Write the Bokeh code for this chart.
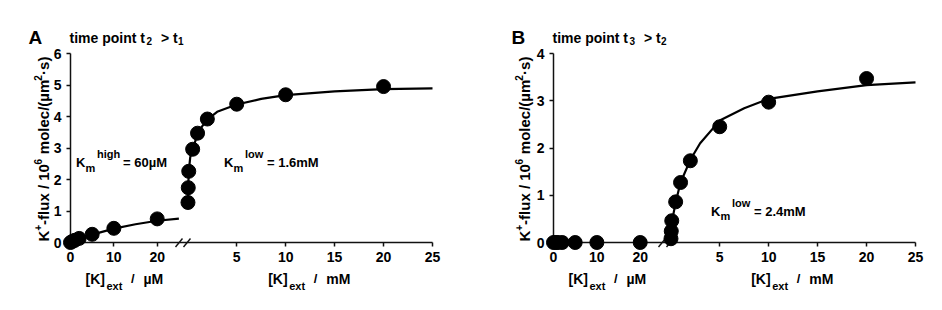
import math
from bokeh.plotting import figure
from bokeh.models import Range1d, FixedTicker
from bokeh.core.properties import value
from bokeh.layouts import row
from bokeh.embed import file_html
from bokeh.resources import INLINE

# ---------------- data ----------------
conc_um = [0, 0.5, 1, 2, 5, 10, 20]                 # µM part of the axis
conc_mm = [0.02, 0.05, 0.1, 0.5, 1, 2, 5, 10, 20]   # mM part of the axis

fluxA_um = [0.0, 0.04, 0.07, 0.13, 0.26, 0.45, 0.75]
fluxA_mm = [1.27, 1.74, 2.26, 2.96, 3.47, 3.92, 4.39, 4.69, 4.95]
fitA_um_x = [0, 2, 5, 10, 15, 20, 25]
fitA_um_y = [0.0, 0.12, 0.25, 0.44, 0.58, 0.69, 0.76]
fitA_mm_x = [0.02, 0.05, 0.1, 0.25, 0.5, 1, 1.5, 2, 3, 5, 7.5, 10, 15, 20, 25]
fitA_mm_y = [1.2, 1.75, 2.25, 2.7, 2.95, 3.45, 3.7, 3.9, 4.15, 4.38, 4.56, 4.68, 4.8, 4.87, 4.89]

fluxB_um = [0, 0, 0, 0, 0, 0, 0]
fluxB_mm = [0.08, 0.24, 0.46, 0.86, 1.27, 1.73, 2.45, 2.97, 3.47]
fitB_mm_x = [0, 0.05, 0.1, 0.5, 1, 2, 3, 5, 7.5, 10, 15, 20, 25]
fitB_mm_y = [0.0, 0.2, 0.42, 0.85, 1.27, 1.75, 2.1, 2.58, 2.84, 3.04, 3.2, 3.33, 3.39]

um_ticks = [0, 10, 20]
mm_ticks = [5, 10, 15, 20, 25]
yticksA = [0, 1, 2, 3, 4, 5, 6]
yticksB = [0, 1, 2, 3, 4]

# ---------------- layout constants ----------------
FONT = "Liberation Sans"
FW, FH = 362, 189
MM_START, MM_END = -11.98, 25.0
UM_END = 83.5


def um_to_main(u):
    return MM_START + u * (MM_END - MM_START) / UM_END


def txt(p, x, y, s, size, angle=0.0):
    p.text(x=[x], y=[y], text=[s], x_range_name="px", y_range_name="px",
           text_font=value(FONT), text_font_style="bold",
           text_font_size=f"{size}px", text_baseline="alphabetic",
           text_align="left", text_color="black", angle=angle, level="overlay")


def ylabel(p, xb):
    # pieces of "K+-flux / 10^6 molec/(µm^2·s)" written bottom-to-top
    pieces = [("K", 15, 0, 10.8), ("+", 10, 6, 5.8), ("-flux / 10", 15, 0, 60.5),
              ("6", 10, 6, 10.2), ("molec/(\u00b5m", 15, 0, 73.5), ("2", 10, 6, 5.8),
              ("\u00b7s)", 15, 0, 18.3)]
    yy = 1.0
    for s, size, shift, w in pieces:
        txt(p, xb - shift, yy, s, size, angle=math.pi / 2)
        yy += w


def panel(letter, sub1, sub2, ymax, yticks, border_left, border_right, ylab_x):
    p = figure(frame_width=FW, frame_height=FH,
               x_range=Range1d(MM_START, MM_END), y_range=Range1d(0, ymax),
               output_backend="svg", toolbar_location=None,
               min_border_left=border_left, min_border_right=border_right,
               min_border_top=53, min_border_bottom=60)
    p.extra_x_ranges = {"um": Range1d(0, UM_END), "px": Range1d(0, FW)}
    p.extra_y_ranges = {"px": Range1d(0, FH)}
    p.grid.visible = False
    p.outline_line_color = None
    p.background_fill_color = "white"
    p.border_fill_color = "white"

    # x axis (broken: µM part then mM part)
    tick_pos = [um_to_main(u) for u in um_ticks] + [float(m) for m in mm_ticks]
    overrides = {um_to_main(u): str(u) for u in um_ticks}
    overrides.update({float(m): str(m) for m in mm_ticks})
    xa = p.xaxis[0]
    xa.ticker = FixedTicker(ticks=tick_pos)
    xa.major_label_overrides = overrides
    ya = p.yaxis[0]
    ya.ticker = FixedTicker(ticks=yticks)
    for ax in (xa, ya):
        ax.axis_line_color = "#111111"
        ax.axis_line_width = 1.5
        ax.major_tick_line_color = "#111111"
        ax.major_tick_line_width = 1.5
        ax.major_tick_in = 0
        ax.major_tick_out = 4
        ax.minor_tick_line_color = None
        ax.major_label_text_font = FONT
        ax.major_label_text_font_style = "bold"
        ax.major_label_text_font_size = "14px"
        ax.major_label_text_color = "black"
    xa.major_label_standoff = 5
    ya.major_label_standoff = 5

    ylabel(p, ylab_x)

    # axis break marks
    p.segment(x0=[105, 113], y0=[-4.5, -4.5], x1=[112, 120], y1=[4, 4],
              x_range_name="px", y_range_name="px",
              line_color="#111111", line_width=1.4, level="overlay")

    # titles
    txt(p, -42, 205, letter, 19)
    txt(p, -1, 205, "time point t", 14)
    txt(p, 76, 201.3, sub1, 10)
    txt(p, 90.5, 205, "> t", 14)
    txt(p, 107.5, 201.3, sub2, 10)

    # x-axis titles
    for x0, unit in ((15, "\u00b5M"), (197.7, "mM")):
        txt(p, x0, -36, "[K]", 14)
        txt(p, x0 + 21, -43, "ext", 11)
        txt(p, x0 + 45.5, -36, "/", 13)
        txt(p, x0 + 58, -36, unit, 14)
    return p


def km(p, x0, y0, sup, rest, rest_dx):
    txt(p, x0, y0, "K", 13)
    txt(p, x0 + 9.5, y0 - 5, "m", 11)
    txt(p, x0 + 21, y0 + 8.5, sup, 11)
    txt(p, x0 + rest_dx, y0, rest, 13)


DOT = 14

# ---------------- panel A ----------------
pA = panel("A", "2", "1", 6, yticksA, 70, 38, -26.7)
pA.line(fitA_um_x, fitA_um_y, x_range_name="um", line_color="black", line_width=2.2, level="overlay")
pA.line(fitA_mm_x, fitA_mm_y, line_color="black", line_width=2.2, level="overlay")
pA.scatter(conc_um, fluxA_um, x_range_name="um", size=DOT, color="black", level="overlay")
pA.scatter(conc_mm, fluxA_mm, size=DOT, color="black", level="overlay")
km(pA, 5.5, 80, "high", "= 60\u00b5M", 47)
km(pA, 153.5, 80, "low", "= 1.6mM", 43)

# ---------------- panel B ----------------
pB = panel("B", "3", "2", 4, yticksB, 83, 19, -28.7)
pB.line(fitB_mm_x, fitB_mm_y, line_color="black", line_width=2.2, level="overlay")
pB.scatter(conc_um, fluxB_um, x_range_name="um", size=DOT, color="black", level="overlay")
pB.scatter(conc_mm, fluxB_mm, size=DOT, color="black", level="overlay")
km(pB, 157.5, 31.5, "low", "= 2.4mM", 43)

layout = row(pA, pB)
open("out.html", "w").write(file_html(layout, INLINE))
